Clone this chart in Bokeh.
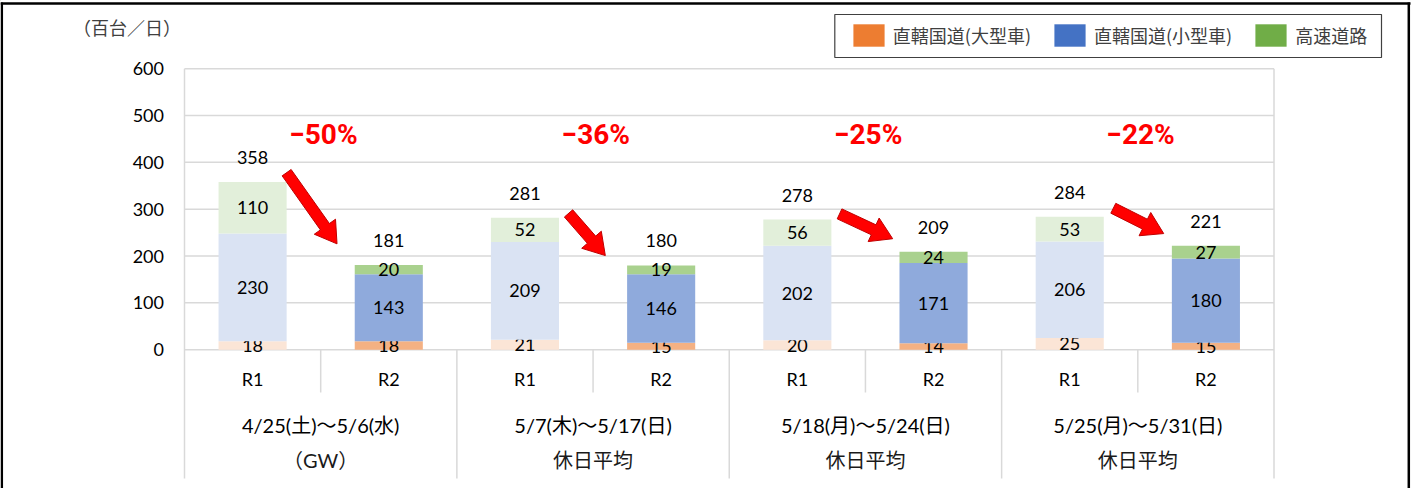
import math
from bokeh.plotting import figure
from bokeh.models import ColumnDataSource, Legend, LegendItem, Range1d
from bokeh.core.properties import value
from bokeh.embed import file_html
from bokeh.resources import INLINE

# ---------------- data ----------------
period_line1 = ["4/25(土)～5/6(水)", "5/7(木)～5/17(日)", "5/18(月)～5/24(日)", "5/25(月)～5/31(日)"]
period_line2 = ["（GW）", "休日平均", "休日平均", "休日平均"]
years = ["R1", "R2"]
series_names = ["直轄国道(大型車)", "直轄国道(小型車)", "高速道路"]
large_r1 = [18, 21, 20, 25]
large_r2 = [18, 15, 14, 15]
small_r1 = [230, 209, 202, 206]
small_r2 = [143, 146, 171, 180]
expwy_r1 = [110, 52, 56, 53]
expwy_r2 = [20, 19, 24, 27]
total_r1 = [358, 281, 278, 284]
total_r2 = [181, 180, 209, 221]
change_labels = ["−50%", "−36%", "−25%", "−22%"]
y_ticks = [0, 100, 200, 300, 400, 500, 600]
y_tick_labels = ["0", "100", "200", "300", "400", "500", "600"]
unit_label = "（百台／日）"

# arrow anchors (annotation, data units)
arrow_tail_x = [0.75, 2.82, 4.81, 6.82]
arrow_tail_y = [378, 291, 290, 302]
arrow_tip_x = [1.12, 3.09, 5.20, 7.19]
arrow_tip_y = [226, 201, 237, 248]

# ---------------- styles ----------------
legend_colors = ["#ED7D31", "#4472C4", "#70AD47"]
r1_colors = ["#FBE5D6", "#DAE3F3", "#E2EFDA"]
r2_colors = ["#F4B183", "#8FAADC", "#A9D18E"]
GRID = "#D9D9D9"
NUM_FONT = value("Lato, 'Noto Sans CJK JP'")
CJK_FONT = value("Noto Sans CJK JP")

W, H = 1416, 488
PLOT_LEFT_PX = 184
X_UNIT = (1273.5 - PLOT_LEFT_PX) / 8.0
Y0_PX, Y600_PX = 349.2, 68.2
Y_UNIT = (Y0_PX - Y600_PX) / 600.0


def dx(px):
    return (px - PLOT_LEFT_PX) / X_UNIT


def dy(py):
    return (Y0_PX - py) / Y_UNIT


p = figure(width=W, height=H, output_backend="svg", toolbar_location=None,
           x_range=Range1d(dx(0), dx(W)), y_range=Range1d(dy(H), dy(0)),
           x_axis_location=None, y_axis_location=None,
           min_border_left=0, min_border_right=0, min_border_top=0, min_border_bottom=0)
p.outline_line_color = None
p.xgrid.visible = False
p.ygrid.visible = False
p.background_fill_color = "white"
p.border_fill_color = "white"

n_groups = len(period_line1)
n_slots = n_groups * 2

# value axis: gridlines + tick labels
p.segment(x0=[0] * len(y_ticks), x1=[n_slots] * len(y_ticks), y0=y_ticks, y1=y_ticks,
          line_color=GRID, line_width=1.5)
p.text(x=[dx(163.5)] * len(y_ticks), y=y_ticks, text=y_tick_labels, text_align="right",
       text_baseline="middle", text_font=value("Lato"), text_font_size="18px",
       text_color="#000000")
p.text(x=[dx(126.5)], y=[dy(26.7)], text=[unit_label], text_align="center", text_baseline="middle",
       text_font=CJK_FONT, text_font_size="18px", text_color="#404040")

# outer vertical lines of the plot area
p.segment(x0=[0, n_slots], x1=[0, n_slots], y0=[600, 600], y1=[dy(478)] * 2,
          line_color=GRID, line_width=1.5)
# group separators
gx = [2 * g for g in range(1, n_groups)]
p.segment(x0=gx, x1=gx, y0=[0] * len(gx), y1=[dy(478)] * len(gx), line_color=GRID, line_width=1.5)
# R1/R2 separators
sx = [2 * g + 1 for g in range(n_groups)]
p.segment(x0=sx, x1=sx, y0=[0] * len(sx), y1=[dy(392)] * len(sx), line_color=GRID, line_width=1.5)

# ---------------- stacked bars ----------------
layers = [(large_r1, large_r2), (small_r1, small_r2), (expwy_r1, expwy_r2)]
xs = []
for g in range(n_groups):
    for r in range(2):
        xs.append(2 * g + r + 0.5)
bottoms = [0.0] * n_slots
for li, (v1, v2) in enumerate(layers):
    vals = []
    for g in range(n_groups):
        vals += [v1[g], v2[g]]
    tops = [b + v for b, v in zip(bottoms, vals)]
    colors = [r1_colors[li] if i % 2 == 0 else r2_colors[li] for i in range(n_slots)]
    src = ColumnDataSource(dict(x=xs, bottom=bottoms, top=tops, color=colors,
                                mid=[(b + t) / 2 for b, t in zip(bottoms, tops)],
                                label=[str(v) for v in vals]))
    p.vbar(x="x", bottom="bottom", top="top", width=0.5, fill_color="color",
           line_color=None, source=src)
    p.text(x="x", y="mid", text="label", source=src, text_align="center",
           text_baseline="middle", text_font=NUM_FONT, text_font_size="18px",
           text_color="#000000")
    bottoms = tops

# totals
totals = []
for g in range(n_groups):
    totals += [total_r1[g], total_r2[g]]
tsrc = ColumnDataSource(dict(x=xs, y=bottoms, label=[str(t) for t in totals]))
p.text(x="x", y="y", text="label", source=tsrc, text_align="center", text_baseline="middle",
       y_offset=-24.5, text_font=NUM_FONT, text_font_size="18px", text_color="#000000")

# ---------------- category labels ----------------
p.text(x=xs, y=[dy(378)] * n_slots, text=years * n_groups, text_align="center",
       text_baseline="middle", text_font=NUM_FONT, text_font_size="18px", text_color="#000000")
gc = [2 * g + 1 for g in range(n_groups)]
p.text(x=gc, y=[dy(424)] * n_groups, text=period_line1, text_align="center",
       text_baseline="middle", text_font=NUM_FONT, text_font_size="20px", text_color="#000000")
p.text(x=gc, y=[dy(459)] * n_groups, text=period_line2, text_align="center",
       text_baseline="middle", text_font=NUM_FONT, text_font_size="20px", text_color="#1a1a1a")

# ---------------- change labels & arrows ----------------
p.text(x=[c + 0.02 for c in gc], y=[dy(134)] * n_groups, text=change_labels, text_align="center",
       text_baseline="middle", text_font=value("Roboto"),
       text_font_style="bold", text_font_size="28px", text_color="#FF0000")


def arrow_poly(x0, y0, x1, y1, shaft=5.5, head_w=13.0, head_l=21.0):
    ax, ay = PLOT_LEFT_PX + x0 * X_UNIT, Y0_PX - y0 * Y_UNIT
    bx, by = PLOT_LEFT_PX + x1 * X_UNIT, Y0_PX - y1 * Y_UNIT
    L = math.hypot(bx - ax, by - ay)
    ux, uy = (bx - ax) / L, (by - ay) / L
    nx, ny = -uy, ux
    cx, cy = bx - ux * head_l, by - uy * head_l
    pts = [(ax + nx * shaft, ay + ny * shaft), (cx + nx * shaft, cy + ny * shaft),
           (cx + nx * head_w, cy + ny * head_w), (bx, by),
           (cx - nx * head_w, cy - ny * head_w), (cx - nx * shaft, cy - ny * shaft),
           (ax - nx * shaft, ay - ny * shaft)]
    return [dx(q[0]) for q in pts], [dy(q[1]) for q in pts]


axs, ays = [], []
for i in range(n_groups):
    a, b = arrow_poly(arrow_tail_x[i], arrow_tail_y[i], arrow_tip_x[i], arrow_tip_y[i])
    axs.append(a)
    ays.append(b)
p.patches(xs=axs, ys=ays, fill_color="#FF0000", line_color="#C00000", line_width=1)

# ---------------- legend ----------------
p.quad(left=[dx(834.3)], right=[dx(1381)], top=[dy(14)], bottom=[dy(57)],
       fill_color=None, line_color="#404040", line_width=1.2)
items = []
for name, c in zip(series_names, legend_colors):
    # a proxy bar placed outside the visible range, only used for its legend swatch
    r = p.vbar(x=[dx(-500)], top=[dy(-500)], bottom=[dy(-480)], width=0.5,
               fill_color=c, line_color=None)
    items.append(LegendItem(label=name, renderers=[r]))
GW, GH = 39, 28
legend = Legend(items=items, orientation="horizontal",
                location=(852.7 - GW * 0.1, H - (23.3 - GH * 0.1 + GH)),
                glyph_width=GW, glyph_height=GH, label_height=GH, label_standoff=5,
                spacing=19, padding=0, margin=0, border_line_alpha=0,
                background_fill_alpha=0, label_text_font="Noto Sans CJK JP",
                label_text_font_size="18px", label_text_color="#404040",
                label_text_baseline="middle")
p.add_layout(legend)

# outer black frame of the picture
p.segment(x0=[dx(1.3), dx(0), dx(1408.3)], x1=[dx(1.3), dx(1410), dx(1408.3)],
          y0=[dy(H + 5), dy(3), dy(H + 5)], y1=[dy(2), dy(3), dy(2)],
          line_color="black", line_width=2.5)

open("out.html", "w").write(file_html(p, INLINE))
